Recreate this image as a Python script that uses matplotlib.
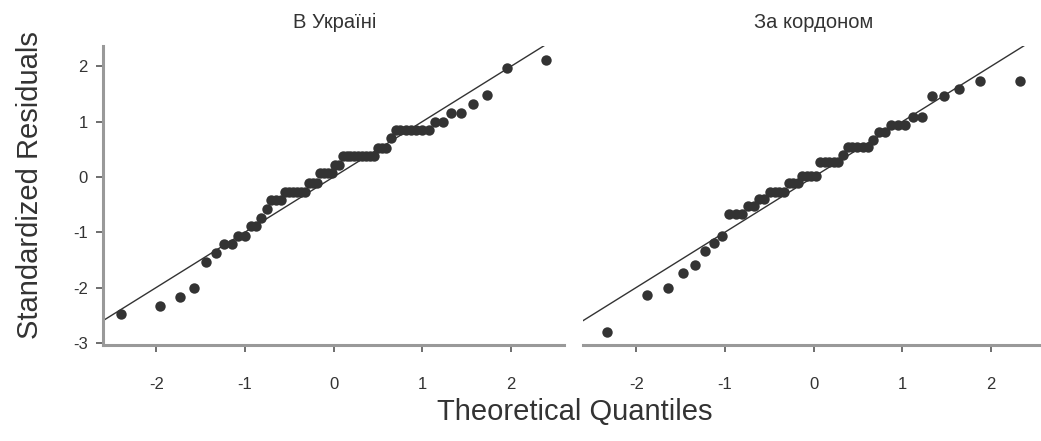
import numpy as np
import matplotlib
matplotlib.use("Agg")
import matplotlib.pyplot as plt
from statistics import NormalDist

# DATA: sorted standardized residuals
titles = ["В Україні", "За кордоном"]

residUA = ([-2.48, -2.33, -2.17, -2.01, -1.54, -1.38, -1.21, -1.21,
            -1.06, -1.06, -0.89, -0.89, -0.74, -0.58]
           + [-0.42] * 3 + [-0.27] * 6 + [-0.10] * 3 + [0.07] * 4
           + [0.22] * 2 + [0.38] * 9 + [0.53] * 3 + [0.70]
           + [0.85] * 7 + [1.00] * 2 + [1.15] * 2
           + [1.32, 1.48, 1.97, 2.12])

residAbroad = ([-2.81, -2.13, -2.00, -1.74, -1.60, -1.34, -1.20, -1.07]
               + [-0.67] * 3 + [-0.52] * 2 + [-0.40] * 2 + [-0.27] * 4
               + [-0.11] * 3 + [0.02] * 4 + [0.27] * 5 + [0.40]
               + [0.55] * 5 + [0.67] + [0.81] * 2 + [0.94] * 3
               + [1.08] * 2 + [1.47, 1.47, 1.60, 1.74, 1.74])

xTicks = [-2, -1, 0, 1, 2]
yTicks = [-3, -2, -1, 0, 1, 2]


def theoretical(n):
    # normal quantiles for a Q-Q plot (ppoints style)
    return np.array([NormalDist().inv_cdf((i - 0.5) / n) for i in range(1, n + 1)])


plt.rcParams['font.family'] = ['Liberation Sans', 'DejaVu Sans']
textCol = '#333333'
spineCol = '#999999'

fig = plt.figure(figsize=(10.41, 4.41), dpi=100)
axL = fig.add_axes([103/1041, 1-345/441, 461/1041, 299/441])
axR = fig.add_axes([583/1041, 1-345/441, 461/1041, 299/441])

for ax, resid, title in zip([axL, axR], [residUA, residAbroad], titles):
    q = theoretical(len(resid))
    ax.plot([-3, 3], [-3, 3], color='#333333', lw=1.0, zorder=1)
    ax.plot(q, resid, 'o', color='#333333', ms=7.5, mec='none', zorder=2)
    ax.set_xlim(-2.6, 2.6)
    ax.set_ylim(-3.04, 2.37)
    ax.set_xticks(xTicks)
    ax.set_xticklabels([str(t) for t in xTicks])
    for s in ['top', 'right']:
        ax.spines[s].set_visible(False)
    ax.spines['bottom'].set_color(spineCol)
    ax.spines['bottom'].set_linewidth(2.2)
    ax.spines['left'].set_color(spineCol)
    ax.spines['left'].set_linewidth(2.2)
    ax.tick_params(axis='x', direction='out', length=5, width=1.2,
                   color='#555555', labelsize=12, labelcolor=textCol, pad=18)
    ax.tick_params(axis='y', direction='out', length=5, width=1.2,
                   color='#555555', labelsize=12, labelcolor=textCol, pad=6)
    ax.set_facecolor('white')

axL.set_yticks(yTicks)
axL.set_yticklabels([str(t) for t in yTicks])
axR.spines['left'].set_visible(False)
axR.set_yticks([])

# TITLES AND AXIS LABELS
fig.text(335/1041, 1-22/441, titles[0], ha='center', va='center',
         fontsize=14.5, color=textCol)
fig.text(814/1041, 1-22/441, titles[1], ha='center', va='center',
         fontsize=14.5, color=textCol)
fig.text(575/1041, 1-412/441, "Theoretical Quantiles", ha='center',
         va='center', fontsize=21, color=textCol)
fig.text(30/1041, 1-185/441, "Standardized Residuals", ha='center',
         va='center', rotation=90, fontsize=21, color=textCol)

fig.savefig('out.png', dpi=100, facecolor='white')
